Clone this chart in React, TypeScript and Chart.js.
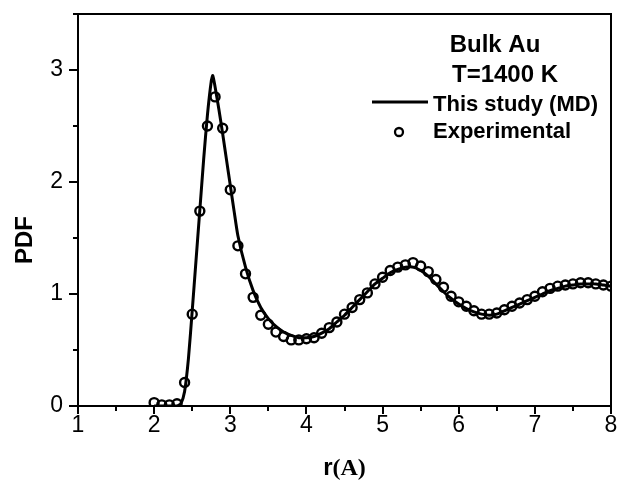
import React, { useEffect, useRef } from "react";
import { Chart, registerables } from "chart.js";

Chart.register(...registerables);

// Experimental PDF points (r in Å, g(r))
const expR = [
  2.0, 2.1, 2.2, 2.3, 2.4, 2.5, 2.6, 2.7, 2.8, 2.9,
  3.0, 3.1, 3.2, 3.3, 3.4, 3.5, 3.6, 3.7, 3.8, 3.9,
  4.0, 4.1, 4.2, 4.3, 4.4, 4.5, 4.6, 4.7, 4.8, 4.9,
  5.0, 5.1, 5.2, 5.3, 5.4, 5.5, 5.6, 5.7, 5.8, 5.9,
  6.0, 6.1, 6.2, 6.3, 6.4, 6.5, 6.6, 6.7, 6.8, 6.9,
  7.0, 7.1, 7.2, 7.3, 7.4, 7.5, 7.6, 7.7, 7.8, 7.9, 8.0,
];
const expG = [
  0.03, 0.01, 0.01, 0.02, 0.21, 0.82, 1.74, 2.5, 2.76, 2.48,
  1.93, 1.43, 1.18, 0.97, 0.81, 0.73, 0.66, 0.62, 0.59, 0.59,
  0.60, 0.61, 0.65, 0.70, 0.75, 0.82, 0.88, 0.95, 1.01, 1.09,
  1.15, 1.21, 1.24, 1.26, 1.28, 1.25, 1.20, 1.13, 1.06, 0.98,
  0.93, 0.89, 0.85, 0.82, 0.82, 0.83, 0.86, 0.89, 0.92, 0.95,
  0.98, 1.02, 1.05, 1.07, 1.08, 1.09, 1.10, 1.10, 1.09, 1.08, 1.07,
];

// MD simulation curve
const mdR = [
  2.0, 2.3, 2.35, 2.4, 2.45, 2.5, 2.55, 2.6, 2.65, 2.7, 2.75, 2.77, 2.8, 2.85,
  2.9, 2.95, 3.0, 3.05, 3.1, 3.2, 3.3, 3.4, 3.5, 3.6, 3.7, 3.8, 3.9,
  4.0, 4.1, 4.2, 4.3, 4.4, 4.5, 4.6, 4.7, 4.8, 4.9,
  5.0, 5.1, 5.2, 5.3, 5.4, 5.5, 5.6, 5.7, 5.8, 5.9,
  6.0, 6.1, 6.2, 6.3, 6.4, 6.5, 6.6, 6.7, 6.8, 6.9,
  7.0, 7.1, 7.2, 7.3, 7.4, 7.5, 7.6, 7.7, 7.8, 7.9, 8.0,
];
const mdG = [
  0, 0, 0.02, 0.13, 0.42, 0.85, 1.3, 1.75, 2.2, 2.6, 2.9, 2.95, 2.85, 2.65,
  2.43, 2.2, 1.97, 1.74, 1.52, 1.24, 1.03, 0.88, 0.78, 0.71, 0.66, 0.63, 0.61,
  0.61, 0.62, 0.65, 0.69, 0.75, 0.81, 0.88, 0.95, 1.02, 1.09,
  1.14, 1.19, 1.22, 1.24, 1.24, 1.21, 1.16, 1.09, 1.02, 0.96,
  0.91, 0.87, 0.84, 0.82, 0.81, 0.82, 0.85, 0.88, 0.91, 0.94,
  0.97, 1.0, 1.03, 1.05, 1.07, 1.08, 1.09, 1.09, 1.09, 1.08, 1.07,
];

const xTickValues = [1, 2, 3, 4, 5, 6, 7, 8];
const yTickValues = [0, 1, 2, 3];
const xMinorValues = [1.5, 2.5, 3.5, 4.5, 5.5, 6.5, 7.5];
const yMinorValues = [0.5, 1.5, 2.5, 3.5];
const legendHeader = ["Bulk Au", "T=1400 K"];
const seriesNames = ["This study (MD)", "Experimental"];
const xTitleMain = "r";
const xTitleUnit = "(A)";
const yTitle = "PDF";

const SANS = "'Liberation Sans', Arial, sans-serif";
const SERIF = "'Liberation Serif', 'Times New Roman', serif";

const decorPlugin = {
  id: "decor",
  afterDraw(chart: any) {
    const ctx = chart.ctx as CanvasRenderingContext2D;
    const a = chart.chartArea;
    const xs = chart.scales.x;
    const ys = chart.scales.y;
    ctx.save();
    ctx.strokeStyle = "#000";
    ctx.fillStyle = "#000";
    ctx.lineWidth = 2;
    // frame
    ctx.strokeRect(a.left, a.top, a.right - a.left, a.bottom - a.top);
    // ticks
    ctx.beginPath();
    xTickValues.forEach((v) => {
      const px = Math.round(xs.getPixelForValue(v));
      ctx.moveTo(px, a.bottom);
      ctx.lineTo(px, a.bottom + 8);
    });
    xMinorValues.forEach((v) => {
      const px = Math.round(xs.getPixelForValue(v));
      ctx.moveTo(px, a.bottom);
      ctx.lineTo(px, a.bottom + 5);
    });
    yTickValues.forEach((v) => {
      const py = Math.round(ys.getPixelForValue(v));
      ctx.moveTo(a.left, py);
      ctx.lineTo(a.left - 9, py);
    });
    yMinorValues.forEach((v) => {
      const py = Math.round(ys.getPixelForValue(v));
      ctx.moveTo(a.left, py);
      ctx.lineTo(a.left - 5, py);
    });
    ctx.stroke();

    // legend header text
    ctx.font = `bold 24px ${SANS}`;
    ctx.textAlign = "center";
    ctx.textBaseline = "alphabetic";
    ctx.fillText(legendHeader[0], 495, 52);
    ctx.fillText(legendHeader[1], 505, 82);
    // legend entries
    ctx.font = `bold 22px ${SANS}`;
    ctx.textAlign = "left";
    ctx.fillText(seriesNames[0], 433, 111);
    ctx.fillText(seriesNames[1], 433, 138);
    ctx.lineWidth = 3;
    ctx.beginPath();
    ctx.moveTo(372, 102);
    ctx.lineTo(428, 102);
    ctx.stroke();
    ctx.lineWidth = 2.3;
    ctx.beginPath();
    ctx.arc(399, 132, 4, 0, Math.PI * 2);
    ctx.stroke();

    // axis titles
    ctx.font = `bold 24px ${SANS}`;
    const wMain = ctx.measureText(xTitleMain).width;
    ctx.font = `bold 24px ${SERIF}`;
    const wUnit = ctx.measureText(xTitleUnit).width;
    const cx = (a.left + a.right) / 2;
    const x0 = cx - (wMain + wUnit) / 2;
    ctx.textAlign = "left";
    ctx.font = `bold 24px ${SANS}`;
    ctx.fillText(xTitleMain, x0, 475);
    ctx.font = `bold 24px ${SERIF}`;
    ctx.fillText(xTitleUnit, x0 + wMain, 475);

    ctx.save();
    ctx.translate(32, 240);
    ctx.rotate(-Math.PI / 2);
    ctx.font = `bold 24px ${SANS}`;
    ctx.textAlign = "center";
    ctx.fillText(yTitle, 0, 0);
    ctx.restore();

    ctx.restore();
  },
};

export default function App() {
  const ref = useRef<HTMLCanvasElement | null>(null);
  useEffect(() => {
    document.body.style.margin = "0";
    const canvas = ref.current;
    if (!canvas) return;
    const chart = new Chart(canvas, {
      type: "scatter",
      data: {
        datasets: [
          {
            type: "line",
            label: seriesNames[0],
            data: mdR.map((r, i) => ({ x: r, y: mdG[i] })),
            borderColor: "#000",
            borderWidth: 3,
            pointRadius: 0,
            tension: 0.2,
            fill: false,
          } as any,
          {
            type: "scatter",
            label: seriesNames[1],
            data: expR.map((r, i) => ({ x: r, y: expG[i] })),
            borderColor: "#000",
            backgroundColor: "rgba(0,0,0,0)",
            pointRadius: 4.5,
            pointBorderWidth: 2.4,
            pointStyle: "circle",
          },
        ],
      },
      options: {
        animation: false,
        responsive: false,
        maintainAspectRatio: false,
        layout: { padding: { left: 0, right: 7, top: 14, bottom: 0 } },
        plugins: {
          legend: { display: false },
          tooltip: { enabled: false },
          title: { display: false },
        },
        scales: {
          x: {
            type: "linear",
            min: 1,
            max: 8,
            grid: { display: false, drawTicks: false },
            border: { display: false },
            afterBuildTicks: (s: any) => {
              s.ticks = xTickValues.map((v) => ({ value: v }));
            },
            afterFit: (s: any) => {
              s.height = 78;
              s.paddingLeft = 0;
              s.paddingRight = 0;
            },
            ticks: {
              color: "#000",
              padding: 6,
              maxRotation: 0,
              font: { family: SANS, size: 23 },
            },
          },
          y: {
            type: "linear",
            min: 0,
            max: 3.5,
            grid: { display: false, drawTicks: false },
            border: { display: false },
            afterBuildTicks: (s: any) => {
              s.ticks = yTickValues.map((v) => ({ value: v }));
            },
            afterFit: (s: any) => {
              s.width = 78;
              s.paddingTop = 0;
              s.paddingBottom = 0;
            },
            ticks: {
              color: "#000",
              padding: 15,
              font: { family: SANS, size: 23 },
            },
          },
        },
      },
      plugins: [decorPlugin],
    });
    return () => chart.destroy();
  }, []);
  return (
    <div style={{ position: "absolute", left: 0, top: 0, width: 618, height: 484, background: "#fff" }}>
      <canvas ref={ref} width={618} height={484} style={{ display: "block" }} />
    </div>
  );
}
